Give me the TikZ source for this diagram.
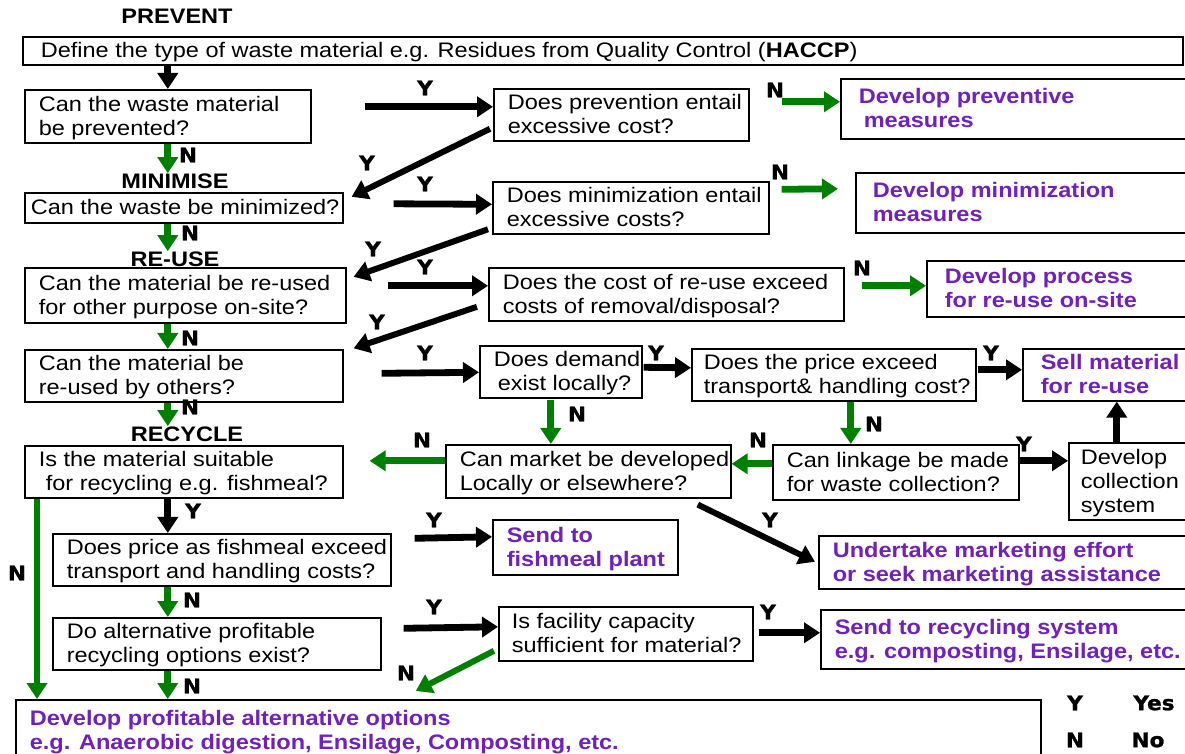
\documentclass[tikz,border=0pt]{standalone}
\usepackage{fontspec}
\setmainfont{Liberation Sans}[FakeStretch=1.12]
\newfontfamily\heavyfont{DejaVu Sans}[FakeStretch=1.08, BoldFeatures={FakeBold=1.2}]
\usetikzlibrary{arrows.meta,calc}
\definecolor{gr}{RGB}{0,128,0}
\definecolor{pu}{RGB}{112,32,190}
\tikzset{
  box/.style={draw=black, line width=0.8pt, fill=white, font=\fontsize{10.5}{12}\selectfont},
  pbox/.style={box, text=pu, font=\fontsize{10.5}{12}\selectfont\bfseries},
  lab/.style={font=\heavyfont\fontsize{10}{12}\selectfont\bfseries, inner sep=0pt},
  sect/.style={font=\fontsize{10.5}{12}\selectfont\bfseries, inner sep=0pt},
  arr/.style={line width=3.4pt, -{Triangle[length=8pt,width=10pt]}},
  garr/.style={arr, draw=gr, color=gr},
  darr/.style={arr, line width=3pt},
}
% name, x1, y1, x2, y2, pad, style, text
\newcommand\bx[8]{%
  \pgfmathsetmacro\bxw{(#4-#2-2*#6)*0.5}%
  \pgfmathsetmacro\bxh{(#5-#3)*0.5}%
  \pgfmathsetmacro\bxp{#6*0.5}%
  \node[#7, anchor=north west, inner xsep=\bxp pt, inner ysep=0pt, minimum height=\bxh pt] (#1) at (#2,#3)
   {\raisebox{0pt}[\dimexpr\height+2pt\relax][\depth]{\makebox[\bxw pt][l]{\begin{tabular}{@{}l@{}}#8\end{tabular}}}};%
}
\begin{document}
\begin{tikzpicture}[x=0.5pt, y=-0.5pt]
\useasboundingbox (0,0) rectangle (1185,754);

% section labels
\node[sect] (prevL) at (177,16) {PREVENT};
\node[sect] (minL) at (175,181) {MINIMISE};
\node[sect] (reuL) at (175,259) {RE-USE};
\node[sect] (recL) at (187,434) {RECYCLE};

% boxes
\bx{def}{22}{36}{1182}{60}{18}{box}{Define the type of waste material e.g. Residues from Quality Control (\textbf{HACCP})}
\bx{A}{24}{89}{310}{142}{14}{box}{Can the waste material\\be prevented?}
\bx{Bp}{493}{88}{748}{140}{14}{box}{Does prevention entail\\excessive cost?}
\bx{Cp}{840}{78}{1220}{138}{18}{pbox}{Develop preventive\\\hspace{2.5pt}measures}
\bx{Mm}{24}{192}{342}{222}{6}{box}{Can the waste be minimized?}
\bx{Bm}{492}{181}{768}{232}{14}{box}{Does minimization entail\\excessive costs?}
\bx{Cm}{855}{172}{1220}{232}{17}{pbox}{Develop minimization\\measures}
\bx{R1}{24}{267}{345}{322}{14}{box}{Can the material be re-used\\for other purpose on-site?}
\bx{Br}{488}{267}{843}{320}{14}{box}{Does the cost of re-use exceed\\costs of removal/disposal?}
\bx{Cr}{926}{260}{1220}{316}{18}{pbox}{Develop process\\for re-use on-site}
\bx{R2}{24}{349}{342}{398}{14}{box}{Can the material be\\re-used by others?}
\bx{Dd}{479}{345}{641}{396}{14}{box}{Does demand\\\hspace{2pt}exist locally?}
\bx{Dp}{691}{348}{975}{398}{12}{box}{Does the price exceed\\transport\& handling cost?}
\bx{Sell}{1022}{348}{1220}{398}{18}{pbox}{Sell material\\for re-use}
\bx{Rc}{24}{445}{342}{497}{14}{box}{Is the material suitable\\\hspace{3.5pt}for recycling e.g. fishmeal?}
\bx{Mk}{445}{444}{730}{497}{14}{box}{Can market be developed\\Locally or elsewhere?}
\bx{Lk}{772}{444}{1018}{499}{14}{box}{Can linkage be made\\for waste collection?}
\bx{Col}{1068}{442}{1190}{519}{12}{box}{Develop\\collection\\system}
\bx{F1}{52}{533}{390}{582}{14}{box}{Does price as fishmeal exceed\\transport and handling costs?}
\bx{Fp}{492}{519}{677}{574}{14}{pbox}{Send to\\fishmeal plant}
\bx{Mkt}{818}{535}{1220}{588}{14}{pbox}{Undertake marketing effort\\or seek marketing assistance}
\bx{F2}{52}{617}{380}{666}{14}{box}{Do alternative profitable\\recycling options exist?}
\bx{Fc}{498}{606}{752}{660}{13}{box}{Is facility capacity\\sufficient for material?}
\bx{Rs}{820}{609}{1220}{668}{14}{pbox}{Send to recycling system\\e.g. composting, Ensilage, etc.}
\bx{Alt}{15}{699}{1040}{760}{14}{pbox}{Develop profitable alternative options\\e.g. Anaerobic digestion, Ensilage, Composting, etc.}

% left column
\draw[arr] (A.north |- def.south) -- (A.north);
\draw[garr] (A.south) -- (A.south |- minL.north);
\draw[garr] (A.south |- Mm.south) -- (A.south |- reuL.north);
\draw[garr] (A.south |- R1.south) -- (A.south |- R2.north);
\draw[garr] (A.south |- R2.south) -- (A.south |- recL.north);
\draw[arr] (A.south |- Rc.south) -- (A.south |- F1.north);
\draw[garr] (A.south |- F1.south) -- (A.south |- F2.north);
\draw[garr] (A.south |- F2.south) -- (A.south |- Alt.north);
\draw[garr] ($(Rc.south west)+(13,0)$) -- ($(Alt.north west)+(22,0)$);
\node[lab] (n1) at (188,155) {N};
\node[lab] (n2) at (190,233) {N};
\node[lab] (n3) at (190,338) {N};
\node[lab] (n4) at (190,407) {N};
\node[lab] (y5) at (193,511) {Y};
\node[lab] (n6) at (192,600) {N};
\node[lab] (n7) at (192,686) {N};
\node[lab] (n8) at (17,573) {N};

% prevent row
\draw[arr] ($(A.east)+(53,-9.5)$) -- ($(Bp.west)+(0,-8)$);
\node[lab] (y1) at (425,88) {Y};
\draw[garr] ($(Bp.east)+(32,-13)$) -- ($(Cp.west)+(0,-7)$);
\node[lab] (nb1) at (775,90) {N};
\draw[darr] ($(Bp.west)+(-3,14)$) -- ($(Mm.east)+(8,-11)$);
\node[lab] (y2) at (367,163) {Y};

% minimise row
\draw[arr] ($(Mm.east)+(50,-4)$) -- ($(Bm.west)+(0,-3.5)$);
\node[lab] (y3) at (425,184) {Y};
\draw[garr] ($(Bm.east)+(12,-18.5)$) -- ($(Cm.west)+(-17,-14)$);
\node[lab] (nb2) at (780,172) {N};
\draw[darr] ($(Bm.west)+(-4,21.5)$) -- ($(R1.east)+(7,-18.5)$);
\node[lab] (y4) at (373,249) {Y};

% re-use on site row
\draw[arr] ($(R1.east)+(41,-9.5)$) -- ($(Br.west)+(0,-8.5)$);
\node[lab] (y6) at (425,267) {Y};
\draw[garr] ($(Br.east)+(17,-8.5)$) -- ($(Cr.west)+(0,-3)$);
\node[lab] (nb3) at (862,268) {N};
\draw[darr] ($(Br.west)+(-11,12.5)$) -- ($(R2.east)+(10,-27.5)$);
\node[lab] (y7) at (377,322) {Y};

% re-use by others row
\draw[arr] ($(R2.east)+(38,-2.5)$) -- ($(Dd.west)+(0,0.5)$);
\node[lab] (y8) at (425,353) {Y};
\draw[arr] ($(Dd.east)+(1,-4.5)$) -- ($(Dp.west)+(0,-7)$);
\node[lab] (y9) at (656,353) {Y};
\draw[arr] ($(Dp.east)+(1,-5)$) -- ($(Sell.west)+(0,-5)$);
\node[lab] (y10) at (991,353) {Y};
\draw[garr] ($(Dd.south)+(-10,1)$) -- ($(Mk.north)+(-37.5,0)$);
\node[lab] (nd1) at (577,414) {N};
\draw[garr] ($(Dp.south)+(17,0)$) -- ($(Lk.north)+(-45,0)$);
\node[lab] (nd2) at (874,424) {N};
\draw[garr] ($(Lk.west)+(0,-8.5)$) -- ($(Mk.east)+(0,-7.5)$);
\node[lab] (nd3) at (758,440) {N};
\draw[garr] ($(Mk.west)+(0,-10.5)$) -- ($(Rc.east)+(26,-11)$);
\node[lab] (nd4) at (422,440) {N};
\draw[arr] ($(Lk.east)+(0,-11.5)$) -- ($(Col.west)+(0,-20.5)$);
\node[lab] (y11) at (1024,444) {Y};
\draw[arr] ($(Col.north)+(-13,0)$) -- ($(Sell.south)+(-5,0)$);
\draw[darr] ($(Mk.south)+(109.5,6)$) -- ($(Mkt.west)+(-3,-0.5)$);
\node[lab] (y12) at (770,520) {Y};

% recycle rows
\draw[arr] ($(F1.east)+(23,-21.5)$) -- ($(Fp.west)+(0,-10.5)$);
\node[lab] (y13) at (434,520) {Y};
\draw[arr] ($(F2.east)+(22,-15.5)$) -- ($(Fc.west)+(0,-7)$);
\node[lab] (y14) at (434,607) {Y};
\draw[arr] ($(Fc.east)+(5,-1)$) -- ($(Rs.west)+(0,-6.5)$);
\node[lab] (y15) at (768,612) {Y};
\draw[garr, line width=3pt] ($(Fc.west)+(-4,17)$) -- ($(Alt.north)+(-112.5,-8)$);
\node[lab] (n9) at (406,673) {N};

% legend
\node[lab] (ly) at (1075,703) {Y};
\node[lab] (lyes) at (1154,703) {Yes};
\node[lab] (ln) at (1075,740) {N};
\node[lab] (lno) at (1148,740) {No};
\end{tikzpicture}
\end{document}
